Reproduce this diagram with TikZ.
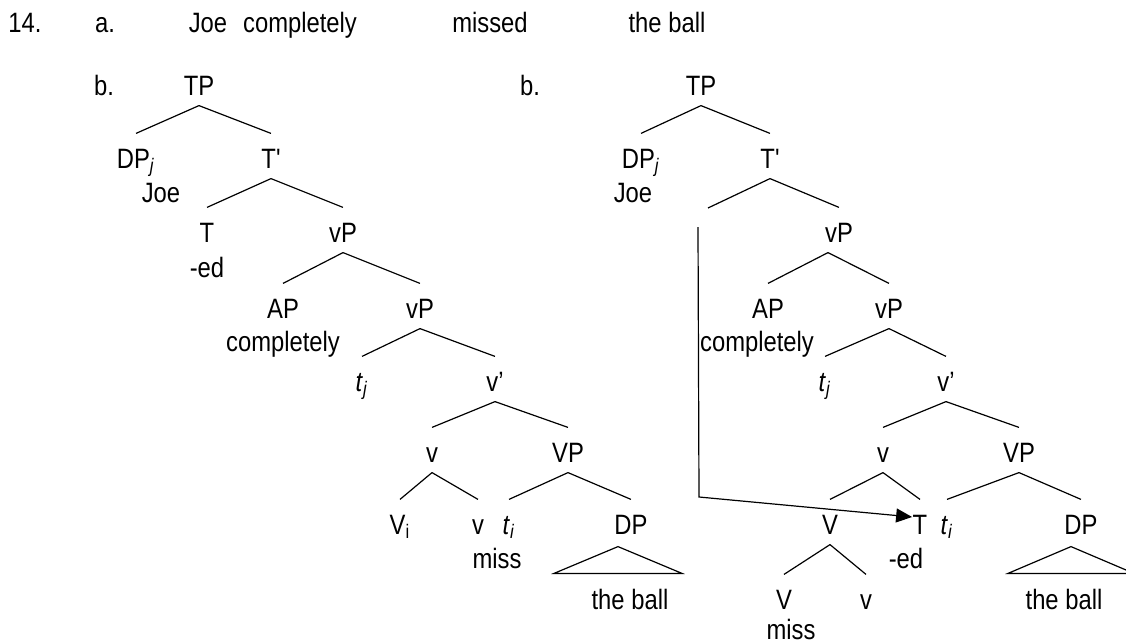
\documentclass[tikz,border=0pt]{standalone}
\usepackage{fontspec}
\setmainfont{Liberation Sans}[FakeStretch=0.85, Ligatures=TeXOff]
\usepackage{tikz}
\usetikzlibrary{arrows.meta}
\tikzset{every node/.style={inner sep=0pt, anchor=base, text height=10pt, text depth=0pt,
    font=\fontsize{14pt}{17pt}\selectfont},
  >/.tip={Triangle[length=8pt, width=7pt]}}
\newcommand{\trace}[1]{\textit{t}\textsubscript{\textit{#1}}}
\newcommand{\branch}[2]{\draw ([yshift=-5pt]#1.south) -- ([yshift=7pt]#2.north);}

\begin{document}
\begin{tikzpicture}[x=0.5pt, y=-0.5pt, line width=0.6pt]
\useasboundingbox (0,0) rectangle (1126,643);

% (14a) the sentence
\node (num) at (25,32) {14.};
\node (a) at (105,32) {a.};
\node (joe) at (208,32) {Joe};
\node (compl) at (300,32) {completely};
\node (missed) at (490,32) {missed};
\node (ball) at (667,32) {the ball};

% (14b) left tree
\node (bL) at (104,95) {b.};
\node (tpL) at (199,95) {TP};
\node (dpL) at (136,168) {DP\textsubscript{\textit{j}}};
\node (tbL) at (271,168) {T'};
\node (joeL) at (161,202) {Joe};
\node (tL) at (207,242) {T};
\node (edL) at (207,277) {-ed};
\node (vpL) at (343,242) {vP};
\node (apL) at (283,318) {AP};
\node (complL) at (283,351) {completely};
\node (vpbL) at (420,318) {vP};
\node (tjL) at (362,391) {\trace{j}};
\node (vbL) at (495,391) {v’};
\node (vL) at (432,462) {v};
\node (bigvpL) at (568,462) {VP};
\node (viL) at (400,534) {V\textsubscript{i}};
\node (vsL) at (478,534) {v};
\node (tiL) at (509,534) {\trace{i}};
\node (dpbL) at (631,534) {DP};
\node (missL) at (497,568) {miss};
\node (ballL) at (630,609) {the ball};

\branch{tpL}{dpL}
\branch{tpL}{tbL}
\branch{tbL}{tL}
\branch{tbL}{vpL}
\branch{vpL}{apL}
\branch{vpL}{vpbL}
\branch{vpbL}{tjL}
\branch{vpbL}{vbL}
\branch{vbL}{vL}
\branch{vbL}{bigvpL}
\branch{vL}{viL}
\branch{vL}{vsL}
\branch{bigvpL}{tiL}
\branch{bigvpL}{dpbL}
\draw ([xshift=-6.5pt,yshift=-6pt]dpbL.south) -- ([xshift=-38pt,yshift=7.5pt]ballL.north)
  -- ([xshift=26pt,yshift=7.5pt]ballL.north) -- cycle;

% (14b) right tree, T lowered onto v
\node (bR) at (530,95) {b.};
\node (tpR) at (701,95) {TP};
\node (dpR) at (641,168) {DP\textsubscript{\textit{j}}};
\node (tbR) at (770,168) {T'};
\node (joeR) at (633,202) {Joe};
\node (vpR) at (839,242) {vP};
\node (apR) at (768,318) {AP};
\node (complR) at (757,351) {completely};
\node (vpbR) at (889,318) {vP};
\node (tjR) at (825,391) {\trace{j}};
\node (vbR) at (946,391) {v’};
\node (vR) at (883,462) {v};
\node (bigvpR) at (1019,462) {VP};
\node (VR) at (830,534) {V};
\node (tR) at (920,534) {T};
\node (tiR) at (947,534) {\trace{i}};
\node (dpbR) at (1081,534) {DP};
\node (edR) at (906,568) {-ed};
\node (VlR) at (784,609) {V};
\node (vlR) at (866,609) {v};
\node (missR) at (791,639) {miss};
\node (ballR) at (1064,609) {the ball};
\coordinate (tgap) at (708,208);
\coordinate (moveTop) at (698,227);
\coordinate (moveBend) at (699,497);

\branch{tpR}{dpR}
\branch{tpR}{tbR}
\draw ([yshift=-5pt]tbR.south) -- (tgap);
\branch{tbR}{vpR}
\draw ([xshift=-5.5pt,yshift=-5pt]vpR.south) -- ([yshift=7pt]apR.north);
\draw ([xshift=-5.5pt,yshift=-5pt]vpR.south) -- ([yshift=7pt]vpbR.north);
\branch{vpbR}{tjR}
\branch{vpbR}{vbR}
\branch{vbR}{vR}
\branch{vbR}{bigvpR}
\branch{vR}{VR}
\branch{vR}{tR}
\branch{bigvpR}{tiR}
\branch{bigvpR}{dpbR}
\branch{VR}{VlR}
\branch{VR}{vlR}
\draw ([xshift=-5pt,yshift=-6pt]dpbR.south) -- ([xshift=-28pt,yshift=7.5pt]ballR.north)
  -- ([xshift=35pt,yshift=7.5pt]ballR.north) -- cycle;

% head movement of T
\draw[->] (moveTop) -- (moveBend) -- ([yshift=3.5pt]tR.west);
\end{tikzpicture}
\end{document}
